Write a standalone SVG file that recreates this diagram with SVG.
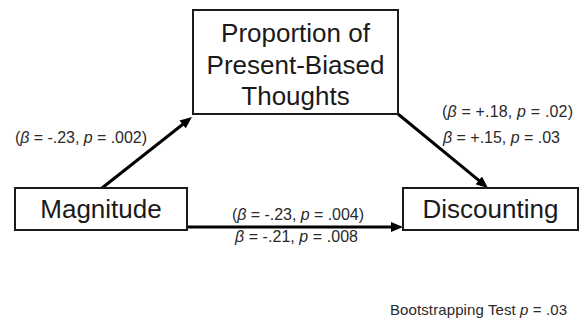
<svg xmlns="http://www.w3.org/2000/svg" width="581" height="322" viewBox="0 0 581 322">
<style>
.box{fill:#fff;stroke:#1a1a1a;stroke-width:2}
.node{font-family:"Liberation Sans",Arial,sans-serif;font-size:26px;fill:#1a1a1a;text-anchor:middle}
.lab{font-family:"Liberation Sans",Arial,sans-serif;font-size:16px;fill:#2a2a2a}
.foot{font-family:"Liberation Sans",Arial,sans-serif;font-size:15px;fill:#2a2a2a}
.conn{stroke:#000;stroke-width:3;fill:none}
</style>
<defs>
<marker id="ah" markerUnits="userSpaceOnUse" markerWidth="12" markerHeight="10" refX="6" refY="5" orient="auto">
<path d="M0,0 L12,5 L0,10 z" fill="#000"/>
</marker>
</defs>
<rect width="581" height="322" fill="#fff"/>
<g id="connectors">
<line class="conn" x1="102" y1="188" x2="187.3" y2="120.7" marker-end="url(#ah)"/>
<line class="conn" x1="398" y1="114" x2="483.4" y2="184.2" marker-end="url(#ah)"/>
<line class="conn" x1="187" y1="227" x2="397" y2="227" marker-end="url(#ah)"/>
</g>
<g id="node-proportion">
<rect class="box" x="193" y="10" width="205" height="104"/>
<text class="node" x="295.5" y="42">Proportion of</text>
<text class="node" x="295.5" y="74">Present-Biased</text>
<text class="node" x="295.5" y="105">Thoughts</text>
</g>
<g id="node-magnitude">
<rect class="box" x="15" y="188" width="172" height="42"/>
<text class="node" x="101" y="218">Magnitude</text>
</g>
<g id="node-discounting">
<rect class="box" x="403" y="188" width="175" height="42"/>
<text class="node" x="490.5" y="218">Discounting</text>
</g>
<g id="labels">
<text class="lab" x="15" y="143" textLength="132">(<tspan font-style="italic">β</tspan> = -.23, <tspan font-style="italic">p</tspan> = .002)</text>
<text class="lab" x="442" y="117" textLength="131">(<tspan font-style="italic">β</tspan> = +.18, <tspan font-style="italic">p</tspan> = .02)</text>
<text class="lab" x="443" y="143" textLength="117"><tspan font-style="italic">β</tspan> = +.15, <tspan font-style="italic">p</tspan> = .03</text>
<text class="lab" x="232" y="220" textLength="132">(<tspan font-style="italic">β</tspan> = -.23, <tspan font-style="italic">p</tspan> = .004)</text>
<text class="lab" x="235" y="242" textLength="123"><tspan font-style="italic">β</tspan> = -.21, <tspan font-style="italic">p</tspan> = .008</text>
<text class="foot" x="390" y="315" textLength="177">Bootstrapping Test <tspan font-style="italic">p</tspan> = .03</text>
</g>
</svg>
